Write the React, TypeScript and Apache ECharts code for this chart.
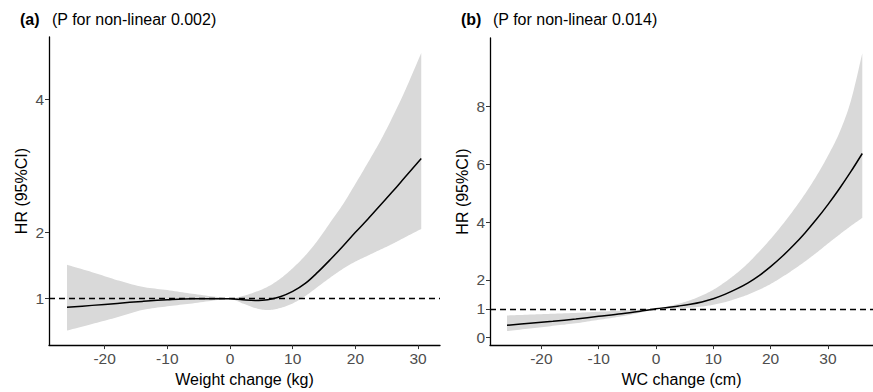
import React, { useEffect, useRef } from "react";
import * as echarts from "echarts";

// Panel (a): weight change (kg)
const wtX = [-26, -22, -18, -14, -10, -6, -2, 0, 2, 4, 6, 8, 10, 12, 14, 16, 18, 20, 22, 24, 26, 28, 30.5];
const wtHR = [0.87, 0.9, 0.93, 0.96, 0.985, 1.0, 1.0, 1.0, 0.985, 0.975, 0.985, 1.03, 1.11, 1.23, 1.4, 1.59, 1.79, 2.0, 2.2, 2.41, 2.62, 2.84, 3.11];
const wtLower = [0.52, 0.62, 0.72, 0.83, 0.885, 0.93, 0.98, 1.0, 0.93, 0.86, 0.83, 0.86, 0.93, 1.04, 1.18, 1.32, 1.45, 1.56, 1.65, 1.74, 1.83, 1.93, 2.05];
const wtUpper = [1.51, 1.4, 1.28, 1.18, 1.13, 1.075, 1.025, 1.0, 1.04, 1.1, 1.18, 1.3, 1.46, 1.65, 1.88, 2.15, 2.42, 2.73, 3.05, 3.38, 3.75, 4.15, 4.7];

// Panel (b): WC change (cm)
const wcX = [-26, -22, -18, -14, -10, -6, -2, 0, 2, 4, 6, 8, 10, 12, 14, 16, 18, 20, 22, 24, 26, 28, 30, 32, 34, 36];
const wcHR = [0.43, 0.5, 0.57, 0.65, 0.74, 0.83, 0.94, 1.0, 1.05, 1.1, 1.16, 1.24, 1.35, 1.5, 1.68, 1.89, 2.15, 2.46, 2.81, 3.2, 3.63, 4.1, 4.61, 5.16, 5.75, 6.38];
const wcLower = [0.23, 0.32, 0.41, 0.5, 0.62, 0.74, 0.9, 1.0, 1.01, 1.02, 1.04, 1.08, 1.14, 1.23, 1.35, 1.49, 1.66, 1.86, 2.1, 2.36, 2.64, 2.94, 3.26, 3.57, 3.87, 4.15];
const wcUpper = [0.77, 0.8, 0.83, 0.86, 0.9, 0.94, 0.98, 1.0, 1.08, 1.18, 1.3, 1.46, 1.66, 1.92, 2.22, 2.57, 2.98, 3.42, 3.9, 4.42, 4.98, 5.6, 6.3, 7.1, 8.2, 9.85];

const xTicks = [-20, -10, 0, 10, 20, 30];
const wtYTicks = [1, 2, 4];
const wcYTicks = [0, 1, 2, 4, 6, 8];

const titleA = "(P for non-linear 0.002)";
const titleB = "(P for non-linear 0.014)";
const xNameA = "Weight change (kg)";
const xNameB = "WC change (cm)";
const yName = "HR (95%CI)";

const FONT = "'Liberation Sans', Arial, sans-serif";

function zip(x: number[], y: number[]) {
  return x.map((v, i) => [v, y[i]]);
}

// Catmull-Rom sampling of pixel points (drawing only, keeps polygon corners sharp)
function curve(pts: number[][], steps = 10): number[][] {
  const out: number[][] = [];
  for (let i = 0; i < pts.length - 1; i++) {
    const p0 = pts[i - 1] || pts[i];
    const p1 = pts[i];
    const p2 = pts[i + 1];
    const p3 = pts[i + 2] || pts[i + 1];
    for (let s = 0; s < steps; s++) {
      const t = s / steps;
      const t2 = t * t;
      const t3 = t2 * t;
      const f = (a: number, b: number, c: number, d: number) =>
        0.5 * (2 * b + (-a + c) * t + (2 * a - 5 * b + 4 * c - d) * t2 + (-a + 3 * b - 3 * c + d) * t3);
      out.push([f(p0[0], p1[0], p2[0], p3[0]), f(p0[1], p1[1], p2[1], p3[1])]);
    }
  }
  out.push(pts[pts.length - 1]);
  return out;
}

function makeXAxis(grid: number, min: number, max: number, name: string) {
  return {
    type: "value",
    gridIndex: grid,
    min,
    max,
    name,
    nameLocation: "middle",
    nameGap: 23,
    nameTextStyle: { color: "#000", fontSize: 16, fontFamily: FONT },
    axisLine: { show: true, onZero: false, lineStyle: { color: "#000", width: 1.3 } },
    axisTick: { show: true, length: 4, lineStyle: { color: "#333", width: 1 }, customValues: xTicks },
    axisLabel: { color: "#4d4d4d", fontSize: 15.5, fontFamily: FONT, margin: 5, customValues: xTicks },
    splitLine: { show: false },
  };
}

function makeYAxis(grid: number, min: number, max: number, ticks: number[]) {
  return {
    type: "value",
    gridIndex: grid,
    min,
    max,
    name: yName,
    nameLocation: "middle",
    nameRotate: 90,
    nameGap: 20,
    nameTextStyle: { color: "#000", fontSize: 16, fontFamily: FONT },
    axisLine: { show: true, onZero: false, lineStyle: { color: "#000", width: 1.3 } },
    axisTick: { show: true, length: 4, lineStyle: { color: "#333", width: 1 }, customValues: ticks },
    axisLabel: { color: "#4d4d4d", fontSize: 15.5, fontFamily: FONT, margin: 5, customValues: ticks },
    splitLine: { show: false },
  };
}

function makeSeries(idx: number, x: number[], hr: number[], lo: number[], up: number[]) {
  return [
    {
      type: "custom",
      xAxisIndex: idx,
      yAxisIndex: idx,
      silent: true,
      z: 1,
      data: x.map((v, i) => [v, lo[i], up[i]]),
      encode: { x: 0, y: [1, 2] },
      renderItem: (params: any, api: any) => {
        if (params.dataIndex !== 0) return null;
        const upPts = x.map((v, i) => api.coord([v, up[i]]));
        const loPts = x.map((v, i) => api.coord([v, lo[i]]));
        const pts = curve(upPts).concat(curve(loPts).reverse());
        return {
          type: "polygon",
          shape: { points: pts },
          style: { fill: "#d9d9d9" },
        };
      },
    },
    {
      type: "line",
      xAxisIndex: idx,
      yAxisIndex: idx,
      data: zip(x, hr),
      symbol: "none",
      smooth: 0.35,
      silent: true,
      lineStyle: { color: "#000", width: 1.5 },
      z: 3,
      markLine: {
        silent: true,
        symbol: "none",
        label: { show: false },
        lineStyle: { color: "#000", type: [6, 4], width: 1.3 },
        data: [{ yAxis: 1 }],
      },
    },
  ];
}

export default function App() {
  const ref = useRef<HTMLDivElement>(null);
  useEffect(() => {
    const chart = echarts.init(ref.current!, null, { renderer: "svg" });
    chart.setOption({
      animation: false,
      backgroundColor: "#fff",
      grid: [
        { left: 49, top: 37, width: 391, height: 312 },
        { left: 490, top: 38, width: 383, height: 311 },
      ],
      xAxis: [makeXAxis(0, -28.87, 33.49, xNameA), makeXAxis(1, -28.97, 37.87, xNameB)],
      yAxis: [makeYAxis(0, 0.302, 4.94, wtYTicks), makeYAxis(1, -0.256, 10.38, wcYTicks)],
      series: [
        ...makeSeries(0, wtX, wtHR, wtLower, wtUpper),
        ...makeSeries(1, wcX, wcHR, wcLower, wcUpper),
      ],
      graphic: [
        { type: "text", left: 20, top: 11, style: { text: "(a)", fontSize: 16, fontWeight: "bold", fontFamily: FONT, fill: "#000" } },
        { type: "text", left: 52, top: 11, style: { text: titleA, fontSize: 16, fontFamily: FONT, fill: "#000" } },
        { type: "text", left: 461, top: 11, style: { text: "(b)", fontSize: 16, fontWeight: "bold", fontFamily: FONT, fill: "#000" } },
        { type: "text", left: 493, top: 11, style: { text: titleB, fontSize: 16, fontFamily: FONT, fill: "#000" } },
      ],
    });
    return () => chart.dispose();
  }, []);
  return <div ref={ref} style={{ position: "fixed", left: 0, top: 0, width: 873, height: 392 }} />;
}
